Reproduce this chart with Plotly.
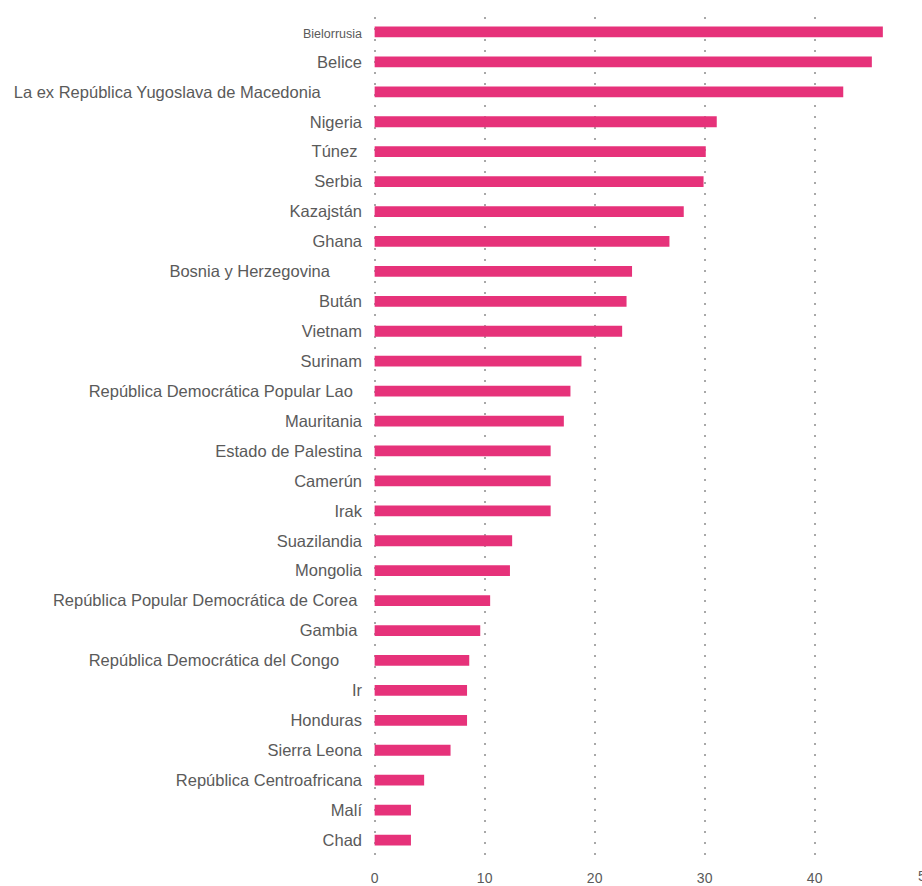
import plotly.graph_objects as go

# Countries, top to bottom, and their values
countries = [
    "Bielorrusia", "Belice", "La ex República Yugoslava de Macedonia", "Nigeria",
    "Túnez", "Serbia", "Kazajstán", "Ghana", "Bosnia y Herzegovina", "Bután",
    "Vietnam", "Surinam", "República Democrática Popular Lao", "Mauritania",
    "Estado de Palestina", "Camerún", "Irak", "Suazilandia", "Mongolia",
    "República Popular Democrática de Corea", "Gambia",
    "República Democrática del Congo", "Ir", "Honduras", "Sierra Leona",
    "República Centroafricana", "Malí", "Chad",
]
values = [
    46.2, 45.2, 42.6, 31.1, 30.1, 29.9, 28.1, 26.8, 23.4, 22.9,
    22.5, 18.8, 17.8, 17.2, 16.0, 16.0, 16.0, 12.5, 12.3,
    10.5, 9.6, 8.6, 8.4, 8.4, 6.9, 4.5, 3.3, 3.3,
]
x_ticks = [0, 10, 20, 30, 40]

BAR_COLOR = "#E6327A"
TEXT_COLOR = "#5a5a5a"
GRID_COLOR = "#a8a8a8"

# extra right-side indent (in non-breaking spaces) for a few labels
label_indent = {
    "La ex República Yugoslava de Macedonia": 9,
    "Bosnia y Herzegovina": 7,
    "República Democrática Popular Lao": 2,
    "República Democrática del Congo": 5,
    "República Popular Democrática de Corea": 1,
    "Túnez": 1,
    "Gambia": 1,
}
small_labels = {"Bielorrusia": 12.5}


def tick_label(name):
    txt = name + "\u00a0" * label_indent.get(name, 0)
    if name in small_labels:
        txt = f'<span style="font-size:{small_labels[name]}px">{txt}</span>'
    return txt


fig = go.Figure(
    go.Bar(
        x=values,
        y=countries,
        orientation="h",
        marker=dict(color=BAR_COLOR, line=dict(width=0)),
        width=0.36,
    )
)

px_per_unit = 11.0
x_min = -0.15
plot_w_px = 922 - 373

fig.update_layout(
    width=922,
    height=886,
    margin=dict(l=373, r=0, t=17, b=31),
    paper_bgcolor="white",
    plot_bgcolor="white",
    showlegend=False,
    font=dict(family="Liberation Sans, Arial, sans-serif", color=TEXT_COLOR),
    xaxis=dict(
        range=[x_min, x_min + plot_w_px / px_per_unit],
        tickvals=x_ticks,
        ticktext=[str(v) for v in x_ticks],
        tickfont=dict(size=14, color=TEXT_COLOR),
        showgrid=True,
        gridcolor=GRID_COLOR,
        gridwidth=1.6,
        griddash="2px,9px",
        zeroline=False,
        showline=False,
        ticks="",
        ticklabelstandoff=13,
    ),
    yaxis=dict(
        categoryorder="array",
        categoryarray=countries,
        autorange="reversed",
        tickvals=countries,
        ticktext=[tick_label(c) for c in countries],
        tickfont=dict(size=16.5, color=TEXT_COLOR),
        showgrid=False,
        zeroline=False,
        showline=False,
        ticks="",
        ticklabelstandoff=10,
    ),
)

# the "50" tick label, cut off by the right edge of the page
fig.add_annotation(
    x=1, xref="paper", y=0, yref="paper",
    text="50", showarrow=False,
    yanchor="top", xanchor="left", xshift=-6, yshift=-11,
    font=dict(size=14, color=TEXT_COLOR),
)

fig.write_html("out.html")
